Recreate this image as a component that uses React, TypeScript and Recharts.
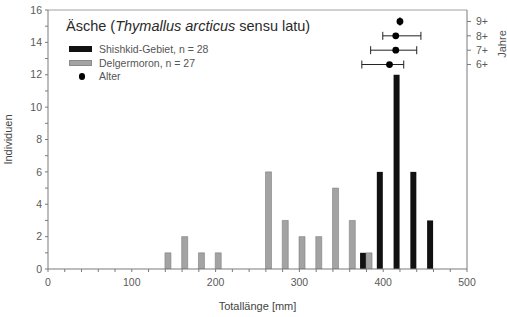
import React from 'react';
import {
  ComposedChart,
  Bar,
  Scatter,
  XAxis,
  YAxis,
  ErrorBar,
  ReferenceLine,
  Legend,
  Label,
} from 'recharts';

// ---- data ----
const bins = [140, 160, 180, 200, 220, 240, 260, 280, 300, 320, 340, 360, 380, 400, 420, 440, 460];
const shishkid = [null, null, null, null, null, null, null, null, null, null, null, null, 1, 6, 12, 6, 3];
const delgermoron = [1, 2, 1, 1, null, null, 6, 3, 2, 2, 5, 3, 1, null, null, null, null];

const ageClasses = [9, 8, 7, 6];
const ageMeanLength = [420, 415, 415, 407.5];
const ageErrLow = [0, 15.5, 30, 33];
const ageErrHigh = [0, 30, 25, 17];

const xTicks = [0, 20, 40, 60, 80, 100, 120, 140, 160, 180, 200, 220, 240, 260, 280, 300, 320, 340, 360, 380, 400, 420, 440, 460, 480, 500];
const xLabelTicks = [0, 100, 200, 300, 400, 500];
const yTicks = [0, 1, 2, 3, 4, 5, 6, 7, 8, 9, 10, 11, 12, 13, 14, 15, 16];
const yLabelTicks = [0, 2, 4, 6, 8, 10, 12, 14, 16];
const ageTicks = [6, 7, 8, 9];

const seriesNames = ['Shishkid-Gebiet, n = 28', 'Delgermoron, n = 27', 'Alter'];
const seriesColors = ['#111111', '#a3a3a3', '#000000'];

const barData = bins.map((b, i) => ({ x: b, shishkid: shishkid[i], delger: delgermoron[i] }));
const ageData = ageClasses.map((a, i) => ({
  x: ageMeanLength[i],
  age: a,
  err: [ageErrLow[i], ageErrHigh[i]],
}));

const FONT = '"Liberation Sans", Arial, sans-serif';
const AXIS = '#7a7a7a';
const TICKTXT = '#5a5a5a';

const LegendContent = () => {
  return (
    <div style={{ position: 'relative', width: 507, height: 90, fontFamily: FONT }}>
      <div
        style={{
          position: 'absolute',
          left: 66,
          top: 18.5,
          fontSize: 14.5,
          lineHeight: '14.5px',
          color: '#2a2a2a',
          whiteSpace: 'nowrap',
        }}
      >
        Äsche (<i>Thymallus arcticus</i> sensu latu)
      </div>
      {seriesNames.map((name, i) => {
        const cy = 49 + i * 13.7;
        const isDot = i === 2;
        return (
          <React.Fragment key={i}>
            {isDot ? (
              <div
                style={{
                  position: 'absolute',
                  left: 78.7,
                  top: cy - 3.3,
                  width: 6.6,
                  height: 6.6,
                  borderRadius: '50%',
                  background: seriesColors[i],
                }}
              />
            ) : (
              <div
                style={{
                  position: 'absolute',
                  left: 69,
                  top: cy - 3,
                  width: 23,
                  height: 6,
                  background: seriesColors[i],
                  boxSizing: 'border-box',
                  border: i === 0 ? 'none' : '1px solid #8a8a8a',
                }}
              />
            )}
            <div
              style={{
                position: 'absolute',
                left: 99,
                top: cy - 6,
                fontSize: 10.5,
                lineHeight: '12px',
                color: '#555',
                whiteSpace: 'nowrap',
              }}
            >
              {name}
            </div>
          </React.Fragment>
        );
      })}
    </div>
  );
};

const JahreLabel = (props: any) => {
  const vb = props.viewBox || { x: 467, y: 10, width: 40, height: 259 };
  const x = vb.x + vb.width - 5;
  const y = vb.y + 34;
  return (
    <text
      x={x}
      y={y}
      transform={`rotate(-90, ${x}, ${y})`}
      textAnchor="middle"
      dominantBaseline="central"
      fontFamily={FONT}
      fontSize={11}
      fill="#555"
    >
      Jahre
    </text>
  );
};

export default function App() {
  return (
    <div style={{ position: 'absolute', left: 0, top: 0, width: 507, height: 317, background: '#fff' }}>
      <ComposedChart
        width={507}
        height={317}
        data={barData}
        margin={{ top: 10, right: 0, bottom: 0, left: 0 }}
        barGap={0}
        style={{ fontFamily: FONT }}
      >
        <XAxis
          dataKey="x"
          type="number"
          domain={[0, 500]}
          ticks={xTicks}
          interval={0}
          allowDataOverflow
          height={48}
          stroke={AXIS}
          tickSize={3}
          tickMargin={7}
          tick={{ fill: TICKTXT, fontSize: 10.5, fontFamily: FONT }}
          tickFormatter={(v: number) => (xLabelTicks.includes(v) ? String(v) : '')}
        >
          <Label
            value="Totallänge [mm]"
            position="insideBottom"
            offset={7}
            style={{ fill: '#444', fontSize: 11, fontFamily: FONT }}
          />
        </XAxis>
        <XAxis
          xAxisId="age"
          dataKey="x"
          type="number"
          domain={[0, 500]}
          allowDataOverflow
          hide
        />
        <YAxis
          yAxisId="left"
          type="number"
          domain={[0, 16]}
          ticks={yTicks}
          interval={0}
          allowDataOverflow
          width={48}
          stroke={AXIS}
          tickSize={3}
          tickMargin={3}
          tick={{ fill: TICKTXT, fontSize: 10.5, fontFamily: FONT }}
          tickFormatter={(v: number) => (yLabelTicks.includes(v) ? String(v) : '')}
        >
          <Label
            value="Individuen"
            angle={-90}
            position="insideLeft"
            offset={8}
            style={{ fill: '#444', fontSize: 11, fontFamily: FONT, textAnchor: 'middle' }}
          />
        </YAxis>
        <YAxis
          yAxisId="right"
          orientation="right"
          type="number"
          dataKey="age"
          domain={[-8.25, 9.8]}
          ticks={ageTicks}
          interval={0}
          allowDataOverflow
          width={40}
          stroke={AXIS}
          tickSize={4}
          tickMargin={5}
          tick={{ fill: TICKTXT, fontSize: 10.5, fontFamily: FONT }}
          tickFormatter={(v: number) => `${v}+`}
        >
          <Label content={JahreLabel} />
        </YAxis>
        <ReferenceLine yAxisId="left" y={16} stroke="#a0a0a0" strokeWidth={1} />
        <Legend
          layout="horizontal"
          verticalAlign="middle"
          align="center"
          content={LegendContent}
          wrapperStyle={{ position: 'absolute', left: 0, top: 0, width: 507, height: 90 }}
        />
        <Bar
          yAxisId="left"
          dataKey="shishkid"
          name={seriesNames[0]}
          fill={seriesColors[0]}
          barSize={6}
          isAnimationActive={false}
          legendType="rect"
        />
        <Bar
          yAxisId="left"
          dataKey="delger"
          name={seriesNames[1]}
          fill={seriesColors[1]}
          stroke="#7d7d7d"
          strokeWidth={0.6}
          barSize={6}
          isAnimationActive={false}
          legendType="rect"
        />
        <Scatter
          xAxisId="age"
          yAxisId="right"
          data={ageData}
          dataKey="age"
          name={seriesNames[2]}
          fill={seriesColors[2]}
          legendType="circle"
          isAnimationActive={false}
          shape={(p: any) => <circle cx={p.cx} cy={p.cy} r={3.4} fill="#000" />}
        >
          <ErrorBar dataKey="err" direction="x" width={4} stroke="#222" strokeWidth={1} />
        </Scatter>
      </ComposedChart>
    </div>
  );
}
